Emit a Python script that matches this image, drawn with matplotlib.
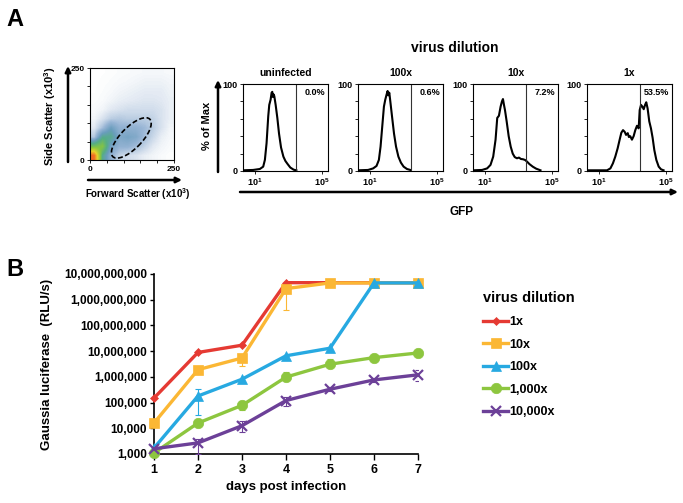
import numpy as np
import matplotlib
matplotlib.use('Agg')
import matplotlib.pyplot as plt
from matplotlib.patches import Ellipse
from matplotlib.colors import LinearSegmentedColormap
from matplotlib.ticker import FuncFormatter, NullLocator

plt.rcParams['font.family'] = ['Liberation Sans', 'DejaVu Sans']
plt.rcParams['font.weight'] = 'bold'
plt.rcParams['mathtext.fontset'] = 'custom'
plt.rcParams['mathtext.rm'] = 'Liberation Sans:bold'
plt.rcParams['mathtext.bf'] = 'Liberation Sans:bold'

# ---- panel A, scatter: coarse density (rows = SSC 0..250, cols = FSC 0..250)
scatter_density = np.array([
    [9.0, 3.0, 1.5, 0.8, 0.6, 0.5, 0.3, 0.2, 0.1, 0.05],
    [4.0, 4.5, 2.0, 1.5, 1.5, 1.2, 0.8, 0.4, 0.2, 0.1],
    [1.0, 3.0, 3.0, 1.8, 2.0, 1.8, 1.2, 0.7, 0.3, 0.15],
    [0.4, 1.2, 2.2, 1.5, 1.5, 1.5, 1.3, 0.9, 0.5, 0.2],
    [0.2, 0.5, 0.9, 1.0, 0.9, 0.9, 0.9, 0.8, 0.5, 0.3],
    [0.1, 0.2, 0.4, 0.5, 0.6, 0.6, 0.6, 0.6, 0.5, 0.3],
    [0.05, 0.1, 0.2, 0.3, 0.35, 0.4, 0.45, 0.45, 0.4, 0.3],
    [0.03, 0.07, 0.12, 0.2, 0.25, 0.3, 0.35, 0.35, 0.35, 0.25],
    [0.02, 0.05, 0.08, 0.12, 0.15, 0.2, 0.25, 0.25, 0.25, 0.2],
    [0.01, 0.03, 0.05, 0.08, 0.1, 0.12, 0.15, 0.15, 0.15, 0.12],
])
gate_center = (123, 60)
gate_size = (150, 60)
gate_angle = 42

# ---- panel A, GFP histograms (x = log10 GFP, y = % of max)
hist_titles = ['uninfected', '100x', '10x', '1x']
hist_pct = ['0.0%', '0.6%', '7.2%', '53.5%']
gfp_gate = 3.47

h_uninf_x = [0.30, 0.90, 1.30, 1.50, 1.60, 1.70, 1.80, 1.86, 1.94, 2.00, 2.04, 2.08, 2.12, 2.16,
             2.24, 2.34, 2.44, 2.56, 2.70, 2.82, 2.95, 3.11, 3.31, 3.47]
h_uninf_y = [0.8, 1.2, 2.3, 5, 12.7, 32, 63, 76, 82, 90, 91, 85, 88, 86,
             76, 61, 43, 27, 16.5, 11.5, 8, 4, 1.5, 0.8]
h_100x_x = [0.30, 0.90, 1.20, 1.40, 1.54, 1.64, 1.74, 1.84, 1.92, 2.00, 2.06, 2.10, 2.16, 2.22,
            2.32, 2.44, 2.56, 2.70, 2.85, 3.01, 3.21, 3.41]
h_100x_y = [0.8, 1.2, 3, 5.8, 12.7, 28, 51, 74, 82, 88, 92, 87, 90, 80,
            63, 43, 28, 16.5, 9.6, 5, 2.3, 1.2]
h_10x_x = [0.30, 0.84, 1.14, 1.34, 1.50, 1.64, 1.74, 1.84, 1.94, 2.02, 2.08, 2.14, 2.20, 2.30,
           2.42, 2.54, 2.66, 2.78, 2.91, 3.03, 3.15, 3.27, 3.39, 3.51, 3.65, 3.85, 4.05, 4.31]
h_10x_y = [0.8, 1.2, 3, 7, 16.5, 36, 61, 63.5, 74, 80, 82.7, 76, 70, 57,
           40, 28, 20, 16, 14.6, 15.4, 13.8, 13.5, 12.7, 10.8, 8, 5, 2.7, 0.8]
h_1x_x = [0.30, 1.49, 1.69, 1.84, 1.98, 2.12, 2.24, 2.34, 2.44, 2.54, 2.62, 2.72, 2.79, 2.87,
          2.97, 3.07, 3.17, 3.27, 3.37, 3.43, 3.51, 3.59, 3.67, 3.75, 3.82, 3.90, 4.00, 4.10,
          4.20, 4.30, 4.42, 4.56, 4.70, 4.85]
h_1x_y = [0.8, 0.8, 3, 8.8, 16.5, 26, 36, 44, 47, 45, 41.5, 43.5, 39, 40,
          36, 40, 47, 52, 49, 70, 76, 74, 71, 76, 79, 72, 57, 49,
          38, 24, 12.7, 5, 1.9, 0.8]
hist_x = [h_uninf_x, h_100x_x, h_10x_x, h_1x_x]
hist_y = [h_uninf_y, h_100x_y, h_10x_y, h_1x_y]

# ---- panel B, Gaussia luciferase time course
days = [1, 2, 3, 4, 5, 6, 7]
dilutions = ['1x', '10x', '100x', '1,000x', '10,000x']
rlu_1x = [1.5e5, 8.9e6, 1.7e7, 4.6e9, 4.6e9, 4.6e9, 4.6e9]
rlu_10x = [1.6e4, 1.9e6, 5.4e6, 2.7e9, 4.5e9, 4.5e9, 4.5e9]
rlu_100x = [1.7e3, 1.8e5, 8.1e5, 6.6e6, 1.3e7, 4.5e9, 4.5e9]
rlu_1000x = [1.1e3, 1.6e4, 7.8e4, 9.8e5, 3.1e6, 5.6e6, 8.5e6]
rlu_10000x = [1.6e3, 2.7e3, 1.26e4, 1.2e5, 3.3e5, 7.6e5, 1.2e6]
nan = np.nan
lo_1x = [nan] * 7
hi_1x = [nan] * 7
lo_10x = [nan, nan, 2.7e6, 4.0e8, nan, nan, nan]
hi_10x = [nan, nan, 7.0e6, 3.0e9, nan, nan, nan]
lo_100x = [nan, 3.4e4, nan, nan, nan, nan, nan]
hi_100x = [nan, 3.3e5, nan, nan, nan, nan, nan]
lo_1000x = [nan, nan, 5.2e4, 8.0e5, 2.6e6, nan, nan]
hi_1000x = [nan, nan, 1.2e5, 1.5e6, 4.9e6, nan, nan]
lo_10000x = [nan, 1.0e3, 6.9e3, 7.1e4, 2.8e5, 6.5e5, 7.2e5]
hi_10000x = [nan, 4.0e3, 1.9e4, 1.7e5, 4.0e5, 9.0e5, 1.9e6]

series = [rlu_1x, rlu_10x, rlu_100x, rlu_1000x, rlu_10000x]
lows = [lo_1x, lo_10x, lo_100x, lo_1000x, lo_10000x]
highs = [hi_1x, hi_10x, hi_100x, hi_1000x, hi_10000x]
colors = ['#E53A33', '#FBB734', '#27A9E1', '#8DC63F', '#6C4098']
markers = ['D', 's', '^', 'o', 'x']
msizes = [4, 7.5, 7, 7.5, 7]

W, H = 683, 503
fig = plt.figure(figsize=(W / 100, H / 100), dpi=100, facecolor='white')


def px_axes(left, top, right, bottom):
    return fig.add_axes([left / W, 1 - bottom / H, (right - left) / W, (bottom - top) / H])


# scatter plot
ax_s = px_axes(90, 68, 174, 160)
cmap = LinearSegmentedColormap.from_list('flow', [
    (0.0, '#ffffff'), (0.02, '#f2f5f9'), (0.06, '#d5e0ed'), (0.15, '#98b5d5'),
    (0.25, '#6a9dbd'), (0.35, '#55ad86'), (0.5, '#84c444'), (0.75, '#e8d22c'), (1.0, '#ef6a25')])
ax_s.imshow(scatter_density, extent=[0, 250, 0, 250], origin='lower', cmap=cmap,
            vmin=0, vmax=9, aspect='auto', interpolation='bilinear')
ax_s.add_patch(Ellipse(gate_center, gate_size[0], gate_size[1], angle=gate_angle,
                       fill=False, ls=(0, (3, 1.5)), lw=1.2, ec='k'))
ax_s.set_xlim(0, 250)
ax_s.set_ylim(0, 250)
ax_s.set_xticks(range(0, 251, 50))
ax_s.set_yticks(range(0, 251, 50))
ax_s.set_xticklabels(['0', '', '', '', '', '250'])
ax_s.set_yticklabels(['0', '', '', '', '', '250'])
ax_s.tick_params(labelsize=6, length=2.5, width=0.6, pad=1.5)
for s in ax_s.spines.values():
    s.set_linewidth(0.8)

# histograms
hist_lefts = [243, 358, 473, 587]
for i in range(4):
    ax = px_axes(hist_lefts[i], 84, hist_lefts[i] + 85, 171)
    ax.plot(hist_x[i], hist_y[i], color='k', lw=1.5)
    ax.axvline(gfp_gate, color='#333333', lw=0.8)
    ax.set_xlim(0.3, 5.35)
    ax.set_ylim(0, 100)
    ax.set_yticks(range(0, 101, 20))
    ax.set_yticklabels(['0', '', '', '', '', '100'])
    ax.set_xticks([1, 5])
    ax.set_xticklabels([r'$\mathbf{10^{1}}$', r'$\mathbf{10^{5}}$'])
    ax.tick_params(labelsize=6.5, length=2.5, width=0.6, pad=1.5)
    for s in ax.spines.values():
        s.set_linewidth(0.8)
    ax.text(0.97, 0.95, hist_pct[i], transform=ax.transAxes, ha='right', va='top', fontsize=6.5)
    ax.set_title(hist_titles[i], fontsize=7.5, fontweight='bold', pad=6)

# panel B line chart
ax_b = px_axes(154, 274, 418, 454)
for k in range(5):
    ax_b.plot(days, series[k], color=colors[k], lw=2.4, marker=markers[k], ms=msizes[k],
              mew=1.6 if markers[k] == 'x' else 0.5, mec=colors[k], label=dilutions[k],
              clip_on=False, zorder=3 + k)
    vals = np.array(series[k])
    lo = np.array(lows[k])
    hi = np.array(highs[k])
    m = ~np.isnan(lo)
    if m.any():
        ax_b.errorbar(np.array(days)[m], vals[m], yerr=[vals[m] - lo[m], hi[m] - vals[m]],
                      fmt='none', ecolor=colors[k], elinewidth=0.8, capsize=2, capthick=0.8,
                      zorder=2 + k)
ax_b.set_yscale('log')
ax_b.set_ylim(1e3, 1e10)
ax_b.set_xlim(1, 7)
ax_b.set_xticks(days)
ax_b.set_yticks([10.0 ** e for e in range(3, 11)])
ax_b.yaxis.set_minor_locator(NullLocator())
ax_b.yaxis.set_major_formatter(FuncFormatter(lambda v, p: '{:,.0f}'.format(v)))
ax_b.spines['top'].set_visible(False)
ax_b.spines['right'].set_visible(False)
ax_b.spines['left'].set_linewidth(1.2)
ax_b.spines['bottom'].set_linewidth(1.2)
ax_b.tick_params(axis='y', labelsize=8.5, length=3, width=1.0, pad=2)
ax_b.tick_params(axis='x', labelsize=9, length=4, width=1.0, pad=3)
ax_b.set_xlabel('days post infection', fontsize=9.5, fontweight='bold', labelpad=4)
ax_b.set_ylabel('Gaussia luciferase  (RLU/s)', fontsize=9.5, fontweight='bold', labelpad=8)
leg = ax_b.legend(loc='upper left', bbox_to_anchor=(472 / W, 1 - 280 / H),
                  bbox_transform=fig.transFigure, frameon=False, fontsize=9,
                  title='virus dilution', handlelength=2.0, labelspacing=0.85,
                  handletextpad=0.1, alignment='left')
leg.get_title().set_fontsize(10.5)
leg.get_title().set_fontweight('bold')

# overlay for panel letters, arrows and shared labels
ov = fig.add_axes([0, 0, 1, 1], facecolor='none')
ov.set_xlim(0, W)
ov.set_ylim(H, 0)
ov.axis('off')
arrow = dict(arrowstyle='-|>', lw=1.8, color='k', mutation_scale=8, shrinkA=0, shrinkB=0)
ov.annotate('', xy=(68, 66), xytext=(68, 162), arrowprops=arrow)
ov.annotate('', xy=(182, 180), xytext=(88, 180), arrowprops=arrow)
ov.annotate('', xy=(218, 80), xytext=(218, 172), arrowprops=arrow)
ov.annotate('', xy=(678, 192), xytext=(240, 192), arrowprops=arrow)
ov.text(50, 116, 'Side Scatter (x10$^{3}$)', rotation=90, ha='center', va='center', fontsize=8)
ov.text(138, 194, 'Forward Scatter (x10$^{3}$)', ha='center', va='center', fontsize=7)
ov.text(207, 126, '% of Max', rotation=90, ha='center', va='center', fontsize=8)
ov.text(462, 212, 'GFP', ha='center', va='center', fontsize=8.5)
ov.text(455, 48, 'virus dilution', ha='center', va='center', fontsize=10)
ov.text(6, 19, 'A', ha='left', va='center', fontsize=17)
ov.text(6, 270, 'B', ha='left', va='center', fontsize=17)

fig.savefig('out.png', dpi=100, facecolor='white')
